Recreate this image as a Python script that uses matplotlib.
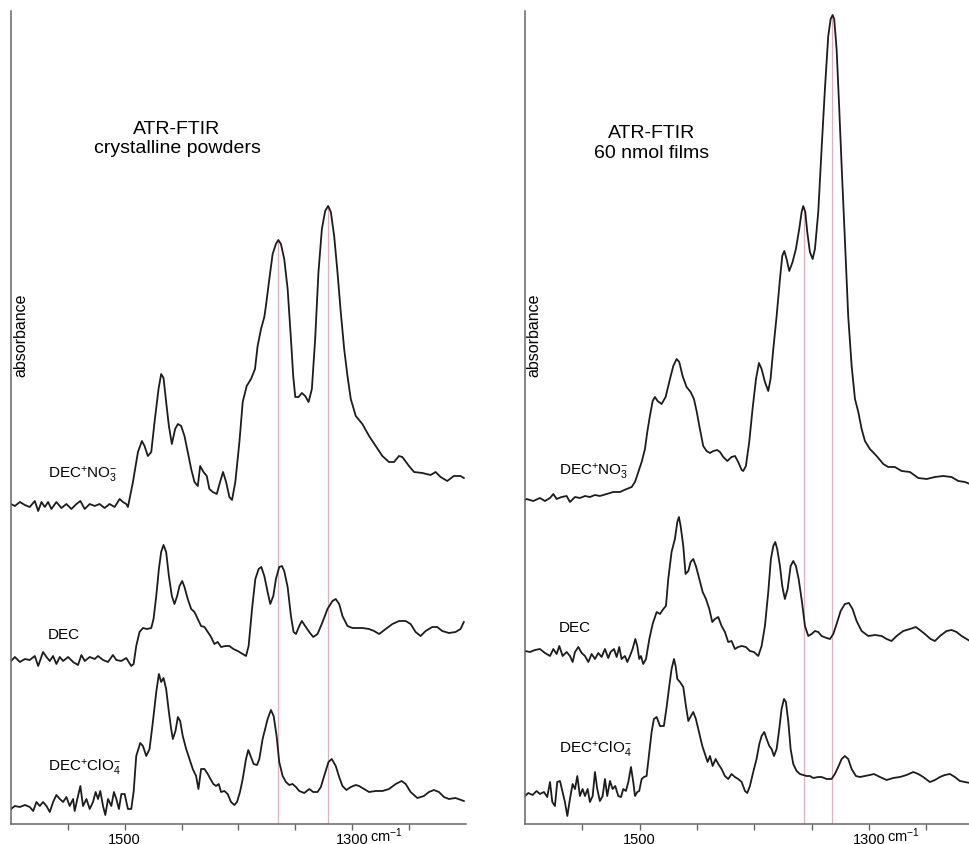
import numpy as np
import matplotlib
matplotlib.use("Agg")
import matplotlib.pyplot as plt

plt.rcParams["font.family"] = ["Liberation Sans", "DejaVu Sans"]
plt.rcParams["mathtext.fontset"] = "custom"
plt.rcParams["mathtext.rm"] = "Liberation Sans"
plt.rcParams["mathtext.it"] = "Liberation Sans:italic"

# -------- spectra (wavenumber cm-1, absorbance a.u., stacked) --------
# crystalline powders
powder_no3 = [
    (1600, 3.20), (1596.6, 3.18), (1592.2, 3.22), (1587.8, 3.19), (1583.5, 3.17), (1579.1, 3.23),
    (1576.1, 3.13), (1573.2, 3.22), (1570.3, 3.17), (1567.4, 3.22), (1564.5, 3.15), (1560.1, 3.22),
    (1555.7, 3.16), (1551.3, 3.20), (1546.9, 3.15), (1542.5, 3.20), (1539.0, 3.23), (1535.2, 3.15),
    (1530.8, 3.20), (1526.4, 3.18), (1522.1, 3.20), (1517.7, 3.16), (1513.3, 3.20), (1508.9, 3.17),
    (1504.5, 3.25), (1501.6, 3.22), (1498.7, 3.20), (1497.2, 3.17), (1492.8, 3.42), (1488.4, 3.72),
    (1484.9, 3.83), (1482.6, 3.78), (1479.7, 3.68), (1476.7, 3.72), (1473.8, 4.02), (1470.3, 4.35),
    (1468.0, 4.50), (1465.9, 4.46), (1463.6, 4.22), (1461.2, 3.98), (1458.6, 3.80), (1455.7, 3.95),
    (1453.3, 4.00), (1450.4, 3.98), (1447.5, 3.88), (1444.6, 3.72), (1441.6, 3.55), (1438.7, 3.42),
    (1435.8, 3.38), (1433.7, 3.58), (1430.8, 3.52), (1427.9, 3.48), (1425.6, 3.35), (1422.6, 3.32),
    (1419.1, 3.30), (1416.2, 3.42), (1413.6, 3.52), (1410.9, 3.42), (1408.0, 3.27), (1405.7, 3.24),
    (1402.8, 3.42), (1399.2, 3.82), (1396.3, 4.22), (1392.8, 4.38), (1389.0, 4.45), (1385.5, 4.55),
    (1383.2, 4.78), (1380.2, 4.95), (1377.3, 5.07), (1375.9, 5.18), (1372.9, 5.45), (1370.0, 5.70),
    (1367.1, 5.80), (1365.0, 5.84), (1362.7, 5.80), (1359.8, 5.65), (1356.8, 5.35), (1353.9, 4.85),
    (1351.9, 4.48), (1350.1, 4.27), (1347.2, 4.27), (1344.3, 4.31), (1341.4, 4.28), (1338.4, 4.22),
    (1335.5, 4.35), (1332.6, 4.85), (1329.7, 5.52), (1326.7, 5.95), (1323.8, 6.13), (1321.2, 6.18),
    (1318.8, 6.12), (1315.9, 5.88), (1313.0, 5.52), (1310.1, 5.12), (1307.1, 4.75), (1304.2, 4.48),
    (1301.3, 4.25), (1296.9, 4.08), (1291.1, 4.00), (1285.2, 3.88), (1279.4, 3.78), (1273.5, 3.68),
    (1267.7, 3.62), (1263.3, 3.62), (1258.9, 3.68), (1256.0, 3.67), (1250.1, 3.58), (1245.7, 3.52),
    (1238.4, 3.51), (1231.1, 3.49), (1226.7, 3.52), (1222.3, 3.47), (1216.5, 3.43), (1210.7, 3.48),
    (1204.8, 3.48), (1201.9, 3.46),
]
powder_dec = [
    (1600, 1.63), (1596.6, 1.67), (1592.2, 1.62), (1587.8, 1.65), (1583.5, 1.64), (1579.1, 1.68),
    (1576.1, 1.58), (1571.8, 1.72), (1568.8, 1.67), (1565.9, 1.63), (1563.0, 1.68), (1560.1, 1.60),
    (1557.1, 1.67), (1554.2, 1.63), (1549.8, 1.67), (1545.4, 1.62), (1541.1, 1.59), (1538.1, 1.69),
    (1535.2, 1.63), (1530.8, 1.67), (1526.4, 1.65), (1523.5, 1.68), (1519.1, 1.64), (1514.7, 1.62),
    (1510.4, 1.69), (1507.4, 1.64), (1503.0, 1.63), (1498.7, 1.66), (1494.3, 1.58), (1492.2, 1.60),
    (1489.9, 1.78), (1487.0, 1.92), (1484.0, 1.96), (1480.5, 1.95), (1476.7, 1.96), (1474.7, 2.05),
    (1472.3, 2.28), (1470.0, 2.55), (1468.0, 2.72), (1465.9, 2.79), (1463.6, 2.72), (1461.2, 2.48),
    (1458.6, 2.28), (1456.3, 2.20), (1453.9, 2.28), (1451.9, 2.38), (1449.5, 2.43), (1447.5, 2.37),
    (1444.6, 2.25), (1441.6, 2.15), (1438.7, 2.12), (1435.8, 2.05), (1432.9, 1.98), (1429.9, 1.97),
    (1427.0, 1.92), (1424.1, 1.87), (1421.2, 1.80), (1418.3, 1.82), (1415.3, 1.77), (1411.5, 1.78),
    (1408.0, 1.78), (1404.5, 1.75), (1400.7, 1.73), (1396.3, 1.70), (1393.4, 1.68), (1391.1, 1.78),
    (1388.1, 2.15), (1385.2, 2.45), (1382.3, 2.55), (1379.9, 2.57), (1377.3, 2.48), (1374.4, 2.32),
    (1372.1, 2.20), (1369.4, 2.28), (1367.1, 2.45), (1364.2, 2.57), (1361.8, 2.58), (1359.8, 2.53),
    (1356.8, 2.37), (1353.9, 2.08), (1351.6, 1.92), (1349.5, 1.90), (1346.6, 1.98), (1344.3, 2.03),
    (1341.4, 1.98), (1337.8, 1.92), (1334.3, 1.87), (1330.5, 1.90), (1326.1, 2.02), (1321.8, 2.15),
    (1317.4, 2.23), (1314.5, 2.25), (1311.5, 2.20), (1308.6, 2.08), (1304.2, 1.98), (1299.8, 1.96),
    (1291.1, 1.96), (1285.2, 1.95), (1280.8, 1.93), (1276.4, 1.90), (1270.6, 1.95), (1264.7, 2.00),
    (1258.9, 2.03), (1253.0, 2.03), (1248.7, 2.00), (1244.3, 1.92), (1239.9, 1.88), (1235.5, 1.93),
    (1229.7, 1.97), (1225.3, 1.97), (1220.9, 1.93), (1215.0, 1.91), (1209.2, 1.92), (1204.8, 1.95),
    (1201.9, 2.02),
]
powder_clo4 = [
    (1600, 0.15), (1596.6, 0.18), (1592.2, 0.17), (1587.8, 0.19), (1583.5, 0.17), (1580.5, 0.13),
    (1577.6, 0.22), (1574.7, 0.18), (1571.8, 0.22), (1568.8, 0.18), (1565.9, 0.12), (1563.0, 0.22),
    (1560.1, 0.29), (1557.1, 0.25), (1554.2, 0.22), (1551.3, 0.27), (1548.4, 0.18), (1545.4, 0.25),
    (1544.0, 0.13), (1541.1, 0.28), (1539.0, 0.38), (1536.7, 0.18), (1533.7, 0.25), (1530.8, 0.15),
    (1527.9, 0.22), (1525.6, 0.32), (1523.5, 0.25), (1521.5, 0.33), (1519.1, 0.18), (1517.1, 0.09),
    (1514.7, 0.25), (1511.8, 0.18), (1509.5, 0.32), (1507.4, 0.25), (1505.1, 0.15), (1503.0, 0.30),
    (1500.1, 0.30), (1497.2, 0.15), (1494.3, 0.15), (1492.2, 0.32), (1489.9, 0.68), (1486.4, 0.81),
    (1484.0, 0.78), (1481.1, 0.68), (1478.2, 0.75), (1475.3, 1.02), (1472.3, 1.32), (1470.0, 1.50),
    (1468.0, 1.42), (1465.9, 1.46), (1463.6, 1.35), (1461.2, 1.12), (1459.2, 0.95), (1457.7, 0.85),
    (1455.4, 0.93), (1453.3, 1.07), (1451.3, 1.03), (1449.0, 0.88), (1446.0, 0.75), (1443.1, 0.65),
    (1440.2, 0.55), (1437.3, 0.48), (1435.2, 0.35), (1432.9, 0.55), (1429.9, 0.55), (1427.0, 0.50),
    (1424.7, 0.45), (1422.1, 0.40), (1419.7, 0.38), (1417.4, 0.40), (1415.3, 0.32), (1412.4, 0.33),
    (1409.5, 0.30), (1406.6, 0.22), (1403.6, 0.19), (1401.3, 0.22), (1398.7, 0.32), (1396.3, 0.45),
    (1393.4, 0.65), (1391.4, 0.74), (1389.0, 0.67), (1386.7, 0.60), (1383.7, 0.59), (1381.7, 0.65),
    (1378.8, 0.85), (1374.4, 1.05), (1371.5, 1.14), (1369.1, 1.08), (1366.5, 0.88), (1364.2, 0.62),
    (1361.2, 0.48), (1358.3, 0.42), (1355.4, 0.39), (1352.5, 0.40), (1349.5, 0.37), (1346.6, 0.33),
    (1342.2, 0.31), (1337.8, 0.35), (1334.3, 0.32), (1330.5, 0.32), (1327.6, 0.37), (1324.7, 0.48),
    (1320.9, 0.62), (1318.0, 0.65), (1314.5, 0.58), (1311.5, 0.47), (1308.6, 0.38), (1305.1, 0.34),
    (1301.3, 0.37), (1296.9, 0.39), (1294.0, 0.38), (1289.6, 0.35), (1285.2, 0.32), (1279.4, 0.33),
    (1273.5, 0.33), (1267.7, 0.35), (1261.8, 0.40), (1256.6, 0.43), (1253.0, 0.40), (1248.7, 0.32),
    (1242.8, 0.26), (1237.0, 0.28), (1232.6, 0.32), (1228.2, 0.34), (1223.8, 0.32), (1219.4, 0.27),
    (1215.0, 0.25), (1209.2, 0.26), (1201.9, 0.23),
]

# 60 nmol films
film_no3 = [
    (1600, 3.24), (1598.6, 3.25), (1592.8, 3.23), (1587.0, 3.26), (1582.6, 3.23), (1578.2, 3.26),
    (1575.3, 3.30), (1572.4, 3.25), (1568.1, 3.27), (1563.7, 3.28), (1560.8, 3.22), (1556.4, 3.27),
    (1552.1, 3.26), (1547.7, 3.28), (1543.4, 3.27), (1539.0, 3.29), (1534.7, 3.28), (1528.8, 3.30),
    (1523.0, 3.32), (1517.2, 3.32), (1511.4, 3.35), (1507.0, 3.37), (1504.1, 3.42), (1501.2, 3.52),
    (1498.3, 3.62), (1495.4, 3.75), (1493.4, 3.92), (1491.1, 4.08), (1488.7, 4.23), (1486.7, 4.27),
    (1484.4, 4.23), (1480.9, 4.20), (1477.4, 4.27), (1473.6, 4.45), (1470.7, 4.58), (1467.8, 4.65),
    (1465.5, 4.62), (1462.6, 4.48), (1459.1, 4.37), (1455.6, 4.32), (1452.7, 4.25), (1450.4, 4.13),
    (1447.5, 3.95), (1444.6, 3.78), (1441.7, 3.73), (1438.7, 3.71), (1435.8, 3.73), (1432.4, 3.74),
    (1430.0, 3.72), (1427.1, 3.67), (1423.6, 3.63), (1419.9, 3.67), (1416.9, 3.68), (1414.1, 3.62),
    (1411.1, 3.54), (1409.7, 3.53), (1407.4, 3.58), (1404.5, 3.82), (1401.6, 4.15), (1398.6, 4.45),
    (1396.0, 4.61), (1393.7, 4.55), (1390.8, 4.42), (1387.9, 4.33), (1385.9, 4.45), (1383.5, 4.75),
    (1380.6, 5.08), (1377.7, 5.45), (1375.7, 5.68), (1373.9, 5.73), (1371.9, 5.65), (1369.6, 5.53),
    (1366.7, 5.62), (1363.8, 5.75), (1360.9, 5.95), (1358.8, 6.12), (1357.4, 6.18), (1355.6, 6.12),
    (1353.9, 5.92), (1351.6, 5.72), (1349.2, 5.65), (1347.2, 5.75), (1344.3, 6.12), (1341.4, 6.75),
    (1338.5, 7.35), (1335.6, 7.88), (1333.5, 8.05), (1331.8, 8.09), (1330.4, 8.05), (1328.3, 7.75),
    (1326.0, 7.15), (1323.7, 6.52), (1321.1, 5.85), (1318.2, 5.08), (1315.2, 4.58), (1312.3, 4.25),
    (1309.4, 4.12), (1306.5, 3.95), (1303.6, 3.83), (1299.3, 3.75), (1293.4, 3.68), (1287.6, 3.60),
    (1283.3, 3.57), (1277.5, 3.57), (1271.6, 3.53), (1264.4, 3.52), (1257.1, 3.46), (1249.8, 3.45),
    (1242.6, 3.47), (1235.3, 3.48), (1228.1, 3.47), (1222.2, 3.43), (1216.4, 3.42), (1212.1, 3.40),
]
film_dec = [
    (1600.0, 1.73), (1595.7, 1.72), (1591.3, 1.74), (1587.0, 1.75), (1582.6, 1.71), (1578.2, 1.68),
    (1575.3, 1.75), (1572.4, 1.70), (1570.1, 1.78), (1567.2, 1.68), (1563.7, 1.72), (1560.8, 1.68),
    (1558.5, 1.62), (1556.4, 1.72), (1553.5, 1.77), (1550.6, 1.71), (1547.7, 1.68), (1544.8, 1.62),
    (1541.9, 1.70), (1539.0, 1.65), (1536.1, 1.71), (1533.2, 1.67), (1530.3, 1.75), (1527.4, 1.66),
    (1525.4, 1.72), (1522.4, 1.75), (1520.1, 1.67), (1517.8, 1.77), (1515.8, 1.65), (1512.9, 1.68),
    (1510.8, 1.62), (1508.5, 1.68), (1506.2, 1.75), (1503.8, 1.85), (1502.1, 1.78), (1500.4, 1.65),
    (1498.9, 1.68), (1496.9, 1.60), (1494.5, 1.65), (1491.6, 1.85), (1488.7, 2.00), (1485.2, 2.12),
    (1482.3, 2.10), (1479.4, 2.15), (1477.1, 2.18), (1475.1, 2.45), (1472.2, 2.72), (1469.3, 2.85),
    (1467.2, 3.02), (1465.8, 3.07), (1464.3, 2.98), (1462.0, 2.78), (1460.0, 2.50), (1457.6, 2.53),
    (1455.6, 2.62), (1453.3, 2.65), (1451.0, 2.58), (1448.0, 2.45), (1445.1, 2.32), (1442.2, 2.25),
    (1439.3, 2.15), (1436.7, 2.02), (1434.4, 2.05), (1431.5, 2.07), (1428.6, 1.98), (1425.7, 1.92),
    (1422.8, 1.82), (1419.9, 1.83), (1417.0, 1.75), (1414.1, 1.77), (1411.1, 1.78), (1407.4, 1.77),
    (1403.9, 1.73), (1400.4, 1.72), (1396.6, 1.68), (1393.7, 1.78), (1390.8, 1.98), (1387.9, 2.32),
    (1385.6, 2.65), (1383.5, 2.78), (1381.8, 2.82), (1380.1, 2.75), (1377.7, 2.58), (1375.7, 2.38),
    (1373.4, 2.25), (1371.0, 2.35), (1368.4, 2.58), (1366.1, 2.63), (1363.8, 2.58), (1361.4, 2.45),
    (1358.5, 2.22), (1355.9, 1.98), (1353.0, 1.88), (1350.1, 1.90), (1347.2, 1.93), (1344.3, 1.92),
    (1341.4, 1.88), (1337.0, 1.86), (1334.1, 1.85), (1331.2, 1.90), (1328.3, 2.00), (1324.8, 2.13),
    (1321.1, 2.20), (1317.6, 2.21), (1314.4, 2.15), (1310.9, 2.03), (1306.5, 1.93), (1300.7, 1.88),
    (1294.9, 1.89), (1289.1, 1.88), (1284.7, 1.85), (1280.4, 1.83), (1276.0, 1.88), (1270.2, 1.93),
    (1264.4, 1.95), (1259.2, 1.97), (1255.7, 1.94), (1251.3, 1.90), (1246.4, 1.85), (1242.6, 1.83),
    (1238.2, 1.88), (1232.4, 1.93), (1228.1, 1.94), (1223.7, 1.92), (1219.3, 1.88), (1215.0, 1.85),
    (1212.1, 1.83),
]
film_clo4 = [
    (1600.0, 0.28), (1597.1, 0.31), (1593.4, 0.29), (1589.9, 0.33), (1587.0, 0.30), (1583.5, 0.32),
    (1580.6, 0.27), (1578.2, 0.42), (1576.2, 0.22), (1573.9, 0.18), (1571.9, 0.42), (1569.5, 0.43),
    (1567.2, 0.32), (1565.2, 0.22), (1563.1, 0.08), (1560.8, 0.25), (1558.5, 0.40), (1556.4, 0.35),
    (1554.4, 0.48), (1552.1, 0.28), (1549.8, 0.35), (1547.7, 0.28), (1545.4, 0.35), (1543.4, 0.22),
    (1541.0, 0.28), (1539.0, 0.52), (1537.0, 0.35), (1534.7, 0.23), (1532.3, 0.28), (1530.3, 0.45),
    (1528.3, 0.28), (1525.9, 0.43), (1523.6, 0.35), (1521.3, 0.38), (1518.7, 0.28), (1516.3, 0.27),
    (1514.3, 0.35), (1512.0, 0.33), (1509.9, 0.42), (1507.6, 0.57), (1505.6, 0.42), (1504.1, 0.28),
    (1502.1, 0.32), (1500.4, 0.33), (1498.3, 0.45), (1496.3, 0.47), (1494.0, 0.48), (1491.6, 0.72),
    (1489.6, 0.92), (1487.6, 1.05), (1485.2, 1.07), (1482.3, 0.98), (1478.9, 0.98), (1476.5, 1.17),
    (1474.2, 1.38), (1472.2, 1.55), (1470.1, 1.65), (1468.7, 1.58), (1467.2, 1.45), (1464.9, 1.42),
    (1462.0, 1.37), (1459.7, 1.18), (1457.6, 1.03), (1455.3, 1.08), (1453.3, 1.12), (1451.0, 1.05),
    (1448.3, 0.92), (1445.4, 0.78), (1443.1, 0.70), (1440.8, 0.62), (1438.7, 0.68), (1436.4, 0.58),
    (1433.8, 0.65), (1431.5, 0.60), (1428.6, 0.55), (1425.7, 0.48), (1422.8, 0.45), (1419.9, 0.50),
    (1417.0, 0.47), (1414.1, 0.45), (1411.1, 0.42), (1408.2, 0.33), (1406.2, 0.31), (1403.9, 0.38),
    (1401.0, 0.52), (1398.1, 0.65), (1395.7, 0.80), (1393.7, 0.88), (1391.4, 0.92), (1389.3, 0.85),
    (1387.0, 0.78), (1385.0, 0.75), (1382.9, 0.68), (1380.6, 0.75), (1378.3, 0.95), (1376.3, 1.15),
    (1374.2, 1.25), (1372.5, 1.22), (1370.4, 1.02), (1368.4, 0.75), (1366.1, 0.60), (1363.2, 0.53),
    (1360.3, 0.50), (1357.4, 0.49), (1354.5, 0.48), (1351.6, 0.48), (1348.7, 0.46), (1344.3, 0.47),
    (1341.4, 0.47), (1337.0, 0.45), (1332.7, 0.45), (1329.8, 0.50), (1326.9, 0.57), (1323.9, 0.65),
    (1321.1, 0.68), (1318.2, 0.65), (1315.2, 0.55), (1311.5, 0.48), (1308.0, 0.47), (1303.6, 0.48),
    (1299.3, 0.49), (1295.8, 0.50), (1290.5, 0.47), (1284.7, 0.44), (1278.9, 0.46), (1273.1, 0.47),
    (1267.3, 0.49), (1261.5, 0.52), (1257.1, 0.50), (1252.8, 0.47), (1247.0, 0.42), (1242.6, 0.44),
    (1238.2, 0.47), (1233.9, 0.49), (1229.5, 0.50), (1225.2, 0.47), (1220.8, 0.43), (1216.4, 0.42),
    (1212.1, 0.41),
]

names = ["DEC$^{+}$NO$_{3}^{-}$", "DEC", "DEC$^{+}$ClO$_{4}^{-}$"]
powder_marks = [1365, 1321]
film_marks = [1357, 1332]
titles = ["ATR-FTIR\ncrystalline powders", "ATR-FTIR\n60 nmol films"]

panels = [
    dict(spectra=[powder_no3, powder_dec, powder_clo4], marks=powder_marks, title=titles[0],
         rect=[11 / 970, 20 / 845, 455 / 970, 813 / 845], xlim=(1600, 1200),
         title_xy=(0.365, 0.844), label_x=1567.5, label_y=[3.50, 1.90, 0.57]),
    dict(spectra=[film_no3, film_dec, film_clo4], marks=film_marks, title=titles[1],
         rect=[525 / 970, 20 / 845, 445 / 970, 813 / 845], xlim=(1600, 1212),
         title_xy=(0.285, 0.838), label_x=1570.5, label_y=[3.53, 1.97, 0.75]),
]

fig = plt.figure(figsize=(9.7, 8.45), dpi=100)

for p in panels:
    ax = fig.add_axes(p["rect"])
    top = np.array(p["spectra"][0])

    # reference lines up to the top trace
    for m in p["marks"]:
        ymax = np.interp(m, top[::-1, 0], top[::-1, 1])
        ax.vlines(m, 0, ymax, color="#f2a7b8", lw=0.9, zorder=1)

    for spec in p["spectra"]:
        s = np.array(spec)
        ax.plot(s[:, 0], s[:, 1], color="#1c1c1c", lw=1.3, zorder=2)

    for name, ly in zip(names, p["label_y"]):
        ax.text(p["label_x"], ly, name, fontsize=11, ha="left", va="center")

    ax.text(*p["title_xy"], p["title"], transform=ax.transAxes, fontsize=14,
            ha="center", va="center", linespacing=1.2)
    ax.text(0.021, 0.603, "absorbance", transform=ax.transAxes, rotation=90,
            fontsize=11.5, ha="center", va="center")

    ax.set_xlim(*p["xlim"])
    ax.set_ylim(0, 8.13)
    ax.set_yticks([])
    ax.set_xticks([1500, 1300])
    ax.set_xticklabels(["1500", "1300"], fontsize=10.5)
    ax.set_xticks([1550, 1450, 1400, 1350, 1250], minor=True)
    ax.tick_params(axis="x", which="both", direction="out", length=4, width=1,
                   color="#666666", pad=1.5)
    ax.annotate("cm$^{-1}$", xy=(1300, 0), xycoords=("data", "axes fraction"),
                xytext=(13, -12.3), textcoords="offset points", ha="left", va="baseline",
                fontsize=10.5)
    for side in ["top", "right"]:
        ax.spines[side].set_visible(False)
    for side in ["left", "bottom"]:
        ax.spines[side].set_color("#666666")
        ax.spines[side].set_linewidth(1.1)

fig.savefig("out.png", dpi=100)
